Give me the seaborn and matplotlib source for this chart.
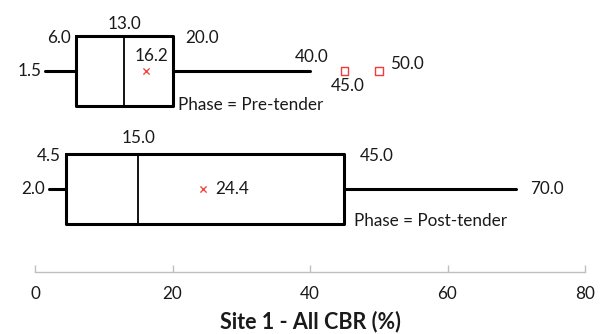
import matplotlib
matplotlib.use("Agg")
import matplotlib.pyplot as plt
import seaborn as sns
import pandas as pd

# ---- data ----
phases = ["Pre-tender", "Post-tender"]
whisker_low = [1.5, 2.0]
q1 = [6.0, 4.5]
median = [13.0, 15.0]
q3 = [20.0, 45.0]
whisker_high = [40.0, 70.0]
means = [16.2, 24.4]
outlier_phase = ["Pre-tender", "Pre-tender"]
outlier_values = [45.0, 50.0]
x_ticks = [0, 20, 40, 60, 80]

sns.set_theme(style="white")
plt.rcParams["font.family"] = ["Lato", "DejaVu Sans"]

fig = plt.figure(figsize=(6.03, 3.34), dpi=100)
ax = fig.add_axes([35 / 603, 1 - 272 / 334, 550 / 603, 272 / 334])

pos = {p: i for i, p in enumerate(phases)}
stats = []
for i, p in enumerate(phases):
    stats.append(dict(label=p, whislo=whisker_low[i], q1=q1[i], med=median[i],
                      q3=q3[i], whishi=whisker_high[i], fliers=[]))

ax.bxp(stats, positions=list(range(len(phases))), widths=0.6,
       orientation="horizontal", showfliers=False, showcaps=False,
       boxprops=dict(color="black", linewidth=2.2),
       whiskerprops=dict(color="black", linewidth=2.2),
       medianprops=dict(color="black", linewidth=1.3))

mean_df = pd.DataFrame({"value": means, "pos": [pos[p] for p in phases]})
out_df = pd.DataFrame({"value": outlier_values, "pos": [pos[p] for p in outlier_phase]})
sns.scatterplot(data=mean_df, x="value", y="pos", marker="x", color="#f04848",
                s=20, linewidth=1.0, ax=ax, zorder=5)
sns.scatterplot(data=out_df, x="value", y="pos", marker="s", facecolor="none",
                edgecolor="#f03c3c", s=30, linewidth=1.0, ax=ax, zorder=5)

fs = 12.3

def lab(x, y, text, dx, dy, ha, va="center"):
    ax.annotate(text, (x, y), xytext=(dx, dy), textcoords="offset pixels",
                ha=ha, va=va, fontsize=fs, color="#1a1a1a")

hw = 0.3
for i, p in enumerate(phases):
    y = pos[p]
    top, bot = y - hw, y + hw
    lab(whisker_low[i], y, f"{whisker_low[i]:.1f}", -4, 0, "right")
    lab(q1[i], top, f"{q1[i]:.1f}", -5, -2, "right")
    lab(median[i], top, f"{median[i]:.1f}", 0, 12 + 4 * i, "center")
    lab(q3[i], top, f"{q3[i]:.1f}", 13 + 2 * i, -2, "left")
    lab(q3[i], bot, f"Phase = {p}", 5 + 5 * i, 1 + 2 * i, "left")

# mean labels
lab(means[0], pos[phases[0]], f"{means[0]:.1f}", 5, 15, "center")
lab(means[1], pos[phases[1]], f"{means[1]:.1f}", 13, 0, "left")
# upper whisker labels
lab(whisker_high[0], pos[phases[0]], f"{whisker_high[0]:.1f}", 2, 14, "center")
lab(whisker_high[1], pos[phases[1]], f"{whisker_high[1]:.1f}", 14, 0, "left")
# outlier labels
lab(outlier_values[0], pos[outlier_phase[0]], f"{outlier_values[0]:.1f}", 3, -15, "center")
lab(outlier_values[1], pos[outlier_phase[1]], f"{outlier_values[1]:.1f}", 11, 7, "left")

ax.set_xlim(0, 80)
ax.set_ylim(1.703, -0.602)
ax.set_xticks(x_ticks)
ax.set_xticklabels([str(t) for t in x_ticks])
ax.set_yticks([])
ax.set_ylabel("")
for s in ["left", "top", "right"]:
    ax.spines[s].set_visible(False)
ax.spines["bottom"].set_color("#bfbfbf")
ax.spines["bottom"].set_linewidth(1.0)
ax.tick_params(axis="x", direction="in", length=5, width=1, color="#bfbfbf",
               labelsize=12.3, labelcolor="#1a1a1a", pad=10, bottom=True)
ax.set_xlabel("Site 1 - All CBR (%)", fontsize=15.5, fontweight="bold",
              color="#1a1a1a", labelpad=6)

fig.savefig("out.png", dpi=100)
